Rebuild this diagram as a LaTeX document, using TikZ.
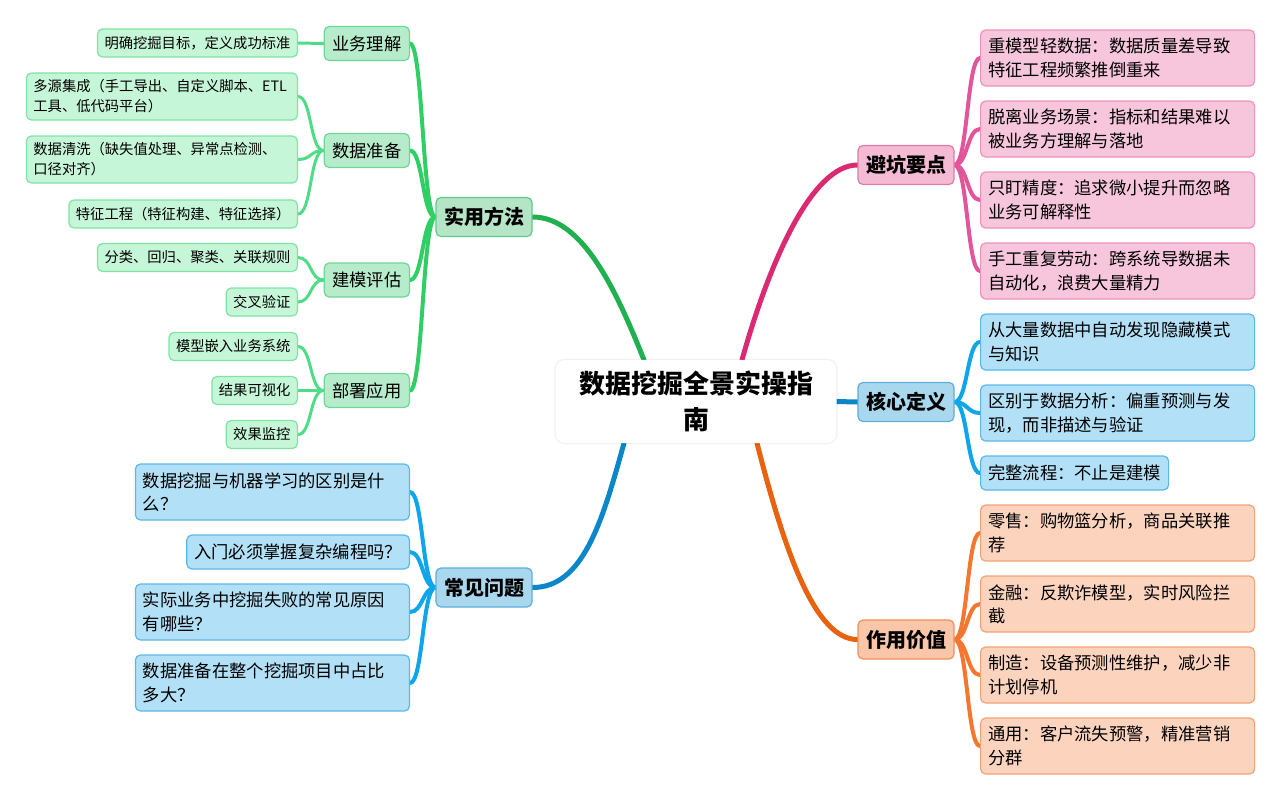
\documentclass[tikz,border=0pt]{standalone}
\usepackage{fontspec}
\setmainfont{Noto Sans CJK SC}
\usetikzlibrary{shadows.blur}
\pgfdeclarelayer{bg}
\pgfsetlayers{bg,main}

% colours
\definecolor{gline}{HTML}{20B050}
\definecolor{gsubline}{HTML}{2FCF66}
\definecolor{gleafline}{HTML}{4FDC86}
\definecolor{gbranch}{HTML}{B4E5C6}
\definecolor{gbranchedge}{HTML}{5DC985}
\definecolor{gsub}{HTML}{B6ECCB}
\definecolor{gsubedge}{HTML}{6CD894}
\definecolor{gleaf}{HTML}{C6F6D8}
\definecolor{gleafedge}{HTML}{7FE3A4}
\definecolor{bline}{HTML}{0B86C8}
\definecolor{bleafline}{HTML}{0EA5EA}
\definecolor{bbranch}{HTML}{A9D8EE}
\definecolor{bbranchedge}{HTML}{5CAEDB}
\definecolor{bleaf}{HTML}{B2E0F7}
\definecolor{bleafedge}{HTML}{5CB8EA}
\definecolor{pline}{HTML}{DB2A72}
\definecolor{pleafline}{HTML}{E3559A}
\definecolor{pbranch}{HTML}{F5BAD4}
\definecolor{pbranchedge}{HTML}{E07AA9}
\definecolor{pleaf}{HTML}{F7C6DC}
\definecolor{pleafedge}{HTML}{EC92BB}
\definecolor{oline}{HTML}{E8620F}
\definecolor{oleafline}{HTML}{F4762F}
\definecolor{obranch}{HTML}{F9C6A9}
\definecolor{obranchedge}{HTML}{F08F58}
\definecolor{oleaf}{HTML}{FCD4BE}
\definecolor{oleafedge}{HTML}{F4A273}

\tikzset{
  mmbox/.style={draw, rounded corners=5pt, line width=1.2pt, inner xsep=8pt, inner ysep=3pt},
  rootbox/.style={mmbox, draw=white, fill=white, rounded corners=9pt, minimum width=280pt,
    minimum height=82pt, align=center, blur shadow={shadow blur steps=8, shadow xshift=0pt, shadow yshift=0pt, shadow opacity=25},
    font=\fontsize{26}{36}\selectfont\bfseries},
  branchbox/.style={mmbox, minimum width=96pt, minimum height=39pt, font=\fontsize{20}{24}\selectfont\bfseries},
  subbox/.style={mmbox, fill=gsub, draw=gsubedge, minimum width=84pt, minimum height=34pt,
    anchor=east, font=\fontsize{17.3}{22}\selectfont},
  leafsmall/.style={mmbox, fill=gleaf, draw=gleafedge, minimum height=28pt, anchor=east,
    inner xsep=7pt, font=\fontsize{14.3}{20}\selectfont},
  leafwide/.style={leafsmall, text width=257pt, align=left, minimum height=47pt},
  leafbig/.style={mmbox, minimum height=56pt, text width=259pt, align=left, inner xsep=7.5pt,
    font=\fontsize{17.3}{23.3}\selectfont},
  leafone/.style={mmbox, minimum height=34pt, inner xsep=7.5pt, font=\fontsize{17.3}{23.3}\selectfont},
  rootline/.style={line width=5pt, line cap=round},
  subline/.style={line width=4pt, line cap=round},
  leafline/.style={line width=3pt, line cap=round},
}

\begin{document}
\begin{tikzpicture}[x=1pt,y=-1pt]
\useasboundingbox (0,0) rectangle (1280,801);

% centre
\node[rootbox] (root) at (696,401.5) {数据挖掘全景实操指\\南};

% main branches
\node[branchbox, fill=gbranch, draw=gbranchedge] (method) at (484,217) {实用方法};
\node[branchbox, fill=bbranch, draw=bbranchedge] (faq) at (484,587.5) {常见问题};
\node[branchbox, fill=pbranch, draw=pbranchedge] (pitfall) at (906,165) {避坑要点};
\node[branchbox, fill=bbranch, draw=bbranchedge] (define) at (906,402) {核心定义};
\node[branchbox, fill=obranch, draw=obranchedge] (value) at (906,639.5) {作用价值};

% 实用方法
\node[subbox] (m1) at (410,43.5) {业务理解};
\node[subbox] (m2) at (410,150.5) {数据准备};
\node[subbox] (m3) at (410,280) {建模评估};
\node[subbox] (m4) at (410,390.5) {部署应用};
\node[leafsmall] (m1a) at (298,43) {明确挖掘目标，定义成功标准};
\node[leafwide] (m2a) at (298,96.5) {多源集成（手工导出、自定义脚本、ETL\\工具、低代码平台）};
\node[leafwide] (m2b) at (298,159.5) {数据清洗（缺失值处理、异常点检测、\\口径对齐）};
\node[leafsmall] (m2c) at (298,214) {特征工程（特征构建、特征选择）};
\node[leafsmall] (m3a) at (298,257.5) {分类、回归、聚类、关联规则};
\node[leafsmall] (m3b) at (298,302) {交叉验证};
\node[leafsmall] (m4a) at (298,346.5) {模型嵌入业务系统};
\node[leafsmall] (m4b) at (298,390.5) {结果可视化};
\node[leafsmall] (m4c) at (298,434.5) {效果监控};

% 常见问题
\node[leafbig, fill=bleaf, draw=bleafedge, anchor=east] (q1) at (410,492) {数据挖掘与机器学习的区别是什\\么？};
\node[leafone, fill=bleaf, draw=bleafedge, anchor=east] (q2) at (410,552) {入门必须掌握复杂编程吗？};
\node[leafbig, fill=bleaf, draw=bleafedge, anchor=east] (q3) at (410,612) {实际业务中挖掘失败的常见原因\\有哪些？};
\node[leafbig, fill=bleaf, draw=bleafedge, anchor=east] (q4) at (410,683) {数据准备在整个挖掘项目中占比\\多大？};

% 避坑要点
\node[leafbig, fill=pleaf, draw=pleafedge, anchor=west] (p1) at (980,58) {重模型轻数据：数据质量差导致\\特征工程频繁推倒重来};
\node[leafbig, fill=pleaf, draw=pleafedge, anchor=west] (p2) at (980,129) {脱离业务场景：指标和结果难以\\被业务方理解与落地};
\node[leafbig, fill=pleaf, draw=pleafedge, anchor=west] (p3) at (980,200) {只盯精度：追求微小提升而忽略\\业务可解释性};
\node[leafbig, fill=pleaf, draw=pleafedge, anchor=west] (p4) at (980,271) {手工重复劳动：跨系统导数据未\\自动化，浪费大量精力};

% 核心定义
\node[leafbig, fill=bleaf, draw=bleafedge, anchor=west] (d1) at (980,342) {从大量数据中自动发现隐藏模式\\与知识};
\node[leafbig, fill=bleaf, draw=bleafedge, anchor=west] (d2) at (980,413) {区别于数据分析：偏重预测与发\\现，而非描述与验证};
\node[leafone, fill=bleaf, draw=bleafedge, anchor=west] (d3) at (980,473) {完整流程：不止是建模};

% 作用价值
\node[leafbig, fill=oleaf, draw=oleafedge, anchor=west] (v1) at (980,533) {零售：购物篮分析，商品关联推\\荐};
\node[leafbig, fill=oleaf, draw=oleafedge, anchor=west] (v2) at (980,604) {金融：反欺诈模型，实时风险拦\\截};
\node[leafbig, fill=oleaf, draw=oleafedge, anchor=west] (v3) at (980,675) {制造：设备预测性维护，减少非\\计划停机};
\node[leafbig, fill=oleaf, draw=oleafedge, anchor=west] (v4) at (980,746) {通用：客户流失预警，精准营销\\分群};

\begin{pgfonlayer}{bg}
% centre to branches
\draw[rootline, draw=gline] ([xshift=-52pt]root.north) .. controls +(-28,-70) and +(50,0) .. (method.east);
\draw[rootline, draw=bline] ([xshift=-72pt]root.south) .. controls +(-22,80) and +(50,0) .. (faq.east);
\draw[rootline, draw=pline] ([xshift=46pt]root.north) .. controls +(28,-100) and +(-45,0) .. (pitfall.west);
\draw[rootline, draw=bline] (root.east) -- (define.west);
\draw[rootline, draw=oline] ([xshift=61pt]root.south) .. controls +(28,110) and +(-42,0) .. (value.west);

% 实用方法
\draw[subline, draw=gsubline] (method.west) .. controls +(-13,0) and +(13,0) .. (m1.east);
\draw[subline, draw=gsubline] (method.west) .. controls +(-13,0) and +(13,0) .. (m2.east);
\draw[subline, draw=gsubline] (method.west) .. controls +(-13,0) and +(13,0) .. (m3.east);
\draw[subline, draw=gsubline] (method.west) .. controls +(-13,0) and +(13,0) .. (m4.east);
\draw[leafline, draw=gleafline] (m1.west) -- (m1a.east);
\draw[leafline, draw=gleafline] (m2.west) .. controls +(-14,0) and +(14,0) .. (m2a.east);
\draw[leafline, draw=gleafline] (m2.west) .. controls +(-14,0) and +(14,0) .. (m2b.east);
\draw[leafline, draw=gleafline] (m2.west) .. controls +(-14,0) and +(14,0) .. (m2c.east);
\draw[leafline, draw=gleafline] (m3.west) .. controls +(-14,0) and +(14,0) .. (m3a.east);
\draw[leafline, draw=gleafline] (m3.west) .. controls +(-14,0) and +(14,0) .. (m3b.east);
\draw[leafline, draw=gleafline] (m4.west) .. controls +(-14,0) and +(14,0) .. (m4a.east);
\draw[leafline, draw=gleafline] (m4.west) -- (m4b.east);
\draw[leafline, draw=gleafline] (m4.west) .. controls +(-14,0) and +(14,0) .. (m4c.east);

% 常见问题
\draw[subline, draw=bleafline] (faq.west) .. controls +(-13,0) and +(13,0) .. (q1.east);
\draw[subline, draw=bleafline] (faq.west) .. controls +(-13,0) and +(13,0) .. (q2.east);
\draw[subline, draw=bleafline] (faq.west) .. controls +(-13,0) and +(13,0) .. (q3.east);
\draw[subline, draw=bleafline] (faq.west) .. controls +(-13,0) and +(13,0) .. (q4.east);

% 避坑要点
\draw[subline, draw=pleafline] (pitfall.east) .. controls +(13,0) and +(-13,0) .. (p1.west);
\draw[subline, draw=pleafline] (pitfall.east) .. controls +(13,0) and +(-13,0) .. (p2.west);
\draw[subline, draw=pleafline] (pitfall.east) .. controls +(13,0) and +(-13,0) .. (p3.west);
\draw[subline, draw=pleafline] (pitfall.east) .. controls +(13,0) and +(-13,0) .. (p4.west);

% 核心定义
\draw[subline, draw=bleafline] (define.east) .. controls +(13,0) and +(-13,0) .. (d1.west);
\draw[subline, draw=bleafline] (define.east) .. controls +(13,0) and +(-13,0) .. (d2.west);
\draw[subline, draw=bleafline] (define.east) .. controls +(13,0) and +(-13,0) .. (d3.west);

% 作用价值
\draw[subline, draw=oleafline] (value.east) .. controls +(13,0) and +(-13,0) .. (v1.west);
\draw[subline, draw=oleafline] (value.east) .. controls +(13,0) and +(-13,0) .. (v2.west);
\draw[subline, draw=oleafline] (value.east) .. controls +(13,0) and +(-13,0) .. (v3.west);
\draw[subline, draw=oleafline] (value.east) .. controls +(13,0) and +(-13,0) .. (v4.west);
\end{pgfonlayer}
\end{tikzpicture}
\end{document}
